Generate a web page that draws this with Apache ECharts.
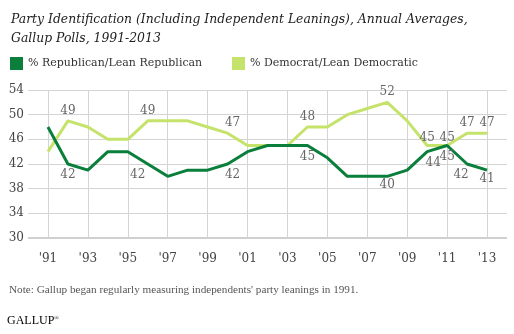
<!DOCTYPE html>
<html><head><meta charset="utf-8">
<script src="https://cdn.jsdelivr.net/npm/echarts@6/dist/echarts.min.js"></script>
<style>html,body{margin:0;padding:0;background:#fff}#c{width:514px;height:334px}</style>
</head><body><div id="c"></div>
<script>
const years = [1991,1992,1993,1994,1995,1996,1997,1998,1999,2000,2001,2002,2003,2004,2005,2006,2007,2008,2009,2010,2011,2012,2013];
const republican = [48,42,41,44,44,42,40,41,41,42,44,45,45,45,43,40,40,40,41,44,45,42,41];
const democrat = [44,49,48,46,46,49,49,49,48,47,45,45,45,48,48,50,51,52,49,45,45,47,47];
const repLabelYears = [1992,1996,2000,2004,2008,2010,2011,2012,2013];
const demLabelYears = [1992,1996,2000,2004,2008,2010,2011,2012,2013];
const yTicks = [30,34,38,42,46,50,54];
const repName = '% Republican/Lean Republican';
const demName = '% Democrat/Lean Democratic';

// label nudges (styling only)
const repNudge = {1996:[-10,0],2000:[5,0],2010:[6,0],2012:[-6,0],2013:[0,-2],2008:[0,-2]};
const demNudge = {2000:[5,0],2010:[0,2],2011:[0,2]};

const serif = '"DejaVu Serif", "Liberation Serif", serif';
const serif2 = '"Liberation Serif", "DejaVu Serif", serif';

function buildData(vals, labelYears, pos, nudge){
  return years.map((y,i)=>{
    const d = {value:[y, vals[i]]};
    if (labelYears.indexOf(y) >= 0) {
      const n = nudge[y] || [0,0];
      d.label = {show:true, position:pos, distance: pos==='top'?4:5, offset:n,
        color:'#666', fontFamily:serif, fontSize:12};
    }
    return d;
  });
}

const chart = echarts.init(document.getElementById('c'), null, {renderer:'canvas'});
chart.setOption({
  animation:false,
  backgroundColor:'#fff',
  title:{
    text:'Party Identification (Including Independent Leanings), Annual Averages,\nGallup Polls, 1991-2013',
    left:6, top:5,
    textStyle:{fontFamily:serif, fontStyle:'italic', fontWeight:'normal', fontSize:12.4, color:'#222', lineHeight:19}
  },
  legend:[
    {data:[repName], left:5, top:52, icon:'rect', itemWidth:13, itemHeight:13,
     textStyle:{fontFamily:serif, fontSize:11, color:'#333'}},
    {data:[demName], left:227, top:52, icon:'rect', itemWidth:13, itemHeight:13,
     textStyle:{fontFamily:serif, fontSize:11, color:'#333'}}
  ],
  grid:{left:28, right:7, top:90, bottom:96, containLabel:false},
  xAxis:{
    type:'value', min:1990, max:2014, interval:1,
    axisLine:{show:false}, axisTick:{show:false},
    axisLabel:{margin:15, color:'#444', fontFamily:serif, fontSize:12,
      formatter:v=> (v%2===1) ? "'" + String(v).slice(2) : ''},
    splitLine:{show:true, lineStyle:{color:['rgba(0,0,0,0)','#d4d4d4'], width:1}}
  },
  yAxis:{
    type:'value', min:yTicks[0], max:yTicks[yTicks.length-1], interval:4,
    axisLine:{show:false}, axisTick:{show:false},
    axisLabel:{margin:4, color:'#444', fontFamily:serif, fontSize:12},
    splitLine:{show:true, lineStyle:{color:'#d4d4d4', width:1}}
  },
  series:[
    {name:repName, type:'line', data:buildData(republican, repLabelYears, 'bottom', repNudge),
     symbol:'circle', symbolSize:0.01, showSymbol:true,
     lineStyle:{width:3, color:'#0a7f3b'}, itemStyle:{color:'#0a7f3b'}, z:3},
    {name:demName, type:'line', data:buildData(democrat, demLabelYears, 'top', demNudge),
     symbol:'circle', symbolSize:0.01, showSymbol:true,
     lineStyle:{width:3, color:'#c5e36b'}, itemStyle:{color:'#c5e36b'}, z:2,
     markLine:{silent:true, symbol:'none', label:{show:false},
       lineStyle:{color:'#d0d0d0', width:2, type:'solid'}, data:[{yAxis:yTicks[0]}]}}
  ],
  graphic:[
    {type:'text', left:9, top:285, style:{text:"Note: Gallup began regularly measuring independents' party leanings in 1991.",
      fontFamily:serif2, fontSize:11.2, fill:'#555'}},
    {type:'text', left:7, top:315, style:{text:'{a|GALLUP}{b|®}',
      rich:{a:{fontFamily:serif2, fontSize:12, color:'#666'}, b:{fontFamily:serif2, fontSize:6, color:'#666', verticalAlign:'top', padding:[0,0,6,0]}}}}
  ]
});
</script></body></html>
